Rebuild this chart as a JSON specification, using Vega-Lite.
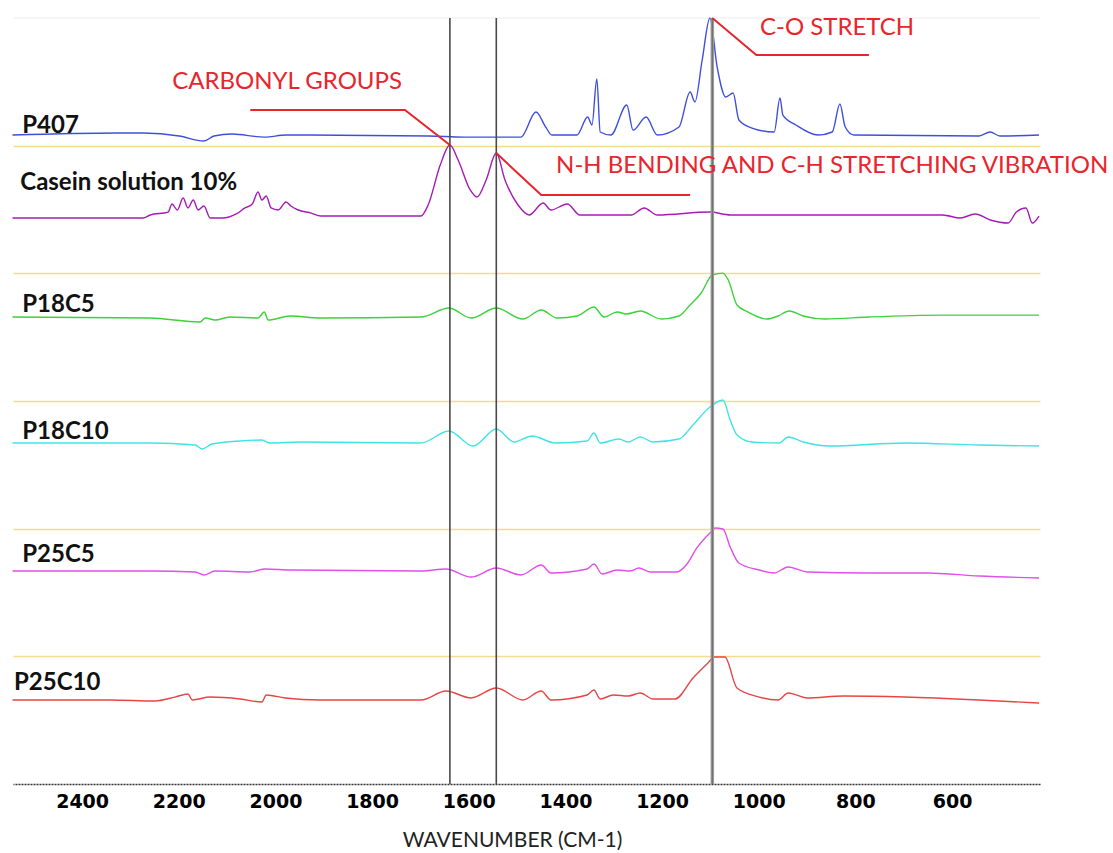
{
  "$schema": "https://vega.github.io/schema/vega-lite/v6.json",
  "autosize": "none",
  "width": 1027,
  "height": 766,
  "padding": {"left": 13, "top": 18, "right": 73, "bottom": 69},
  "background": "white",
  "config": {"view": {"stroke": null}},
  "datasets": {
    "spectra": [
      {"s":"P407","x":2544,"y":5.083},{"s":"P407","x":2326,"y":5.099},{"s":"P407","x":2274,"y":5.099},{"s":"P407","x":2199,"y":5.076},{"s":"P407","x":2148,"y":5.036},{"s":"P407","x":2127,"y":5.076},{"s":"P407","x":2090,"y":5.091},{"s":"P407","x":2023,"y":5.067},{"s":"P407","x":1978,"y":5.083},{"s":"P407","x":1934,"y":5.083},{"s":"P407","x":1682,"y":5.076},{"s":"P407","x":1610,"y":5.067},{"s":"P407","x":1492,"y":5.067},{"s":"P407","x":1461,"y":5.264},{"s":"P407","x":1440,"y":5.141},{"s":"P407","x":1428,"y":5.083},{"s":"P407","x":1376,"y":5.083},{"s":"P407","x":1354,"y":5.224},{"s":"P407","x":1345,"y":5.162},{"s":"P407","x":1335,"y":5.522},{"s":"P407","x":1328,"y":5.107},{"s":"P407","x":1306,"y":5.083},{"s":"P407","x":1273,"y":5.318},{"s":"P407","x":1260,"y":5.122},{"s":"P407","x":1233,"y":5.224},{"s":"P407","x":1210,"y":5.083},{"s":"P407","x":1165,"y":5.146},{"s":"P407","x":1142,"y":5.42},{"s":"P407","x":1132,"y":5.342},{"s":"P407","x":1117,"y":5.671},{"s":"P407","x":1101,"y":6.0},{"s":"P407","x":1086,"y":5.616},{"s":"P407","x":1068,"y":5.381},{"s":"P407","x":1053,"y":5.412},{"s":"P407","x":1041,"y":5.201},{"s":"P407","x":1014,"y":5.138},{"s":"P407","x":968,"y":5.107},{"s":"P407","x":956,"y":5.373},{"s":"P407","x":950,"y":5.24},{"s":"P407","x":923,"y":5.162},{"s":"P407","x":877,"y":5.083},{"s":"P407","x":848,"y":5.107},{"s":"P407","x":832,"y":5.326},{"s":"P407","x":821,"y":5.146},{"s":"P407","x":803,"y":5.083},{"s":"P407","x":544,"y":5.076},{"s":"P407","x":521,"y":5.107},{"s":"P407","x":501,"y":5.076},{"s":"P407","x":420,"y":5.083},

      {"s":"Casein","x":2544,"y":4.433},{"s":"Casein","x":2274,"y":4.433},{"s":"Casein","x":2259,"y":4.457},{"s":"Casein","x":2222,"y":4.48},{"s":"Casein","x":2214,"y":4.543},{"s":"Casein","x":2203,"y":4.496},{"s":"Casein","x":2191,"y":4.59},{"s":"Casein","x":2181,"y":4.512},{"s":"Casein","x":2170,"y":4.574},{"s":"Casein","x":2160,"y":4.496},{"s":"Casein","x":2148,"y":4.527},{"s":"Casein","x":2135,"y":4.433},{"s":"Casein","x":2110,"y":4.433},{"s":"Casein","x":2081,"y":4.465},{"s":"Casein","x":2063,"y":4.512},{"s":"Casein","x":2048,"y":4.543},{"s":"Casein","x":2036,"y":4.637},{"s":"Casein","x":2028,"y":4.574},{"s":"Casein","x":2019,"y":4.606},{"s":"Casein","x":2009,"y":4.512},{"s":"Casein","x":1994,"y":4.496},{"s":"Casein","x":1978,"y":4.559},{"s":"Casein","x":1968,"y":4.527},{"s":"Casein","x":1953,"y":4.496},{"s":"Casein","x":1926,"y":4.472},{"s":"Casein","x":1906,"y":4.449},{"s":"Casein","x":1699,"y":4.449},{"s":"Casein","x":1684,"y":4.535},{"s":"Casein","x":1659,"y":4.848},{"s":"Casein","x":1639,"y":5.005},{"s":"Casein","x":1622,"y":4.888},{"s":"Casein","x":1597,"y":4.653},{"s":"Casein","x":1583,"y":4.598},{"s":"Casein","x":1564,"y":4.731},{"s":"Casein","x":1543,"y":4.942},{"s":"Casein","x":1525,"y":4.731},{"s":"Casein","x":1498,"y":4.535},{"s":"Casein","x":1475,"y":4.457},{"s":"Casein","x":1446,"y":4.551},{"s":"Casein","x":1430,"y":4.496},{"s":"Casein","x":1396,"y":4.543},{"s":"Casein","x":1370,"y":4.457},{"s":"Casein","x":1264,"y":4.457},{"s":"Casein","x":1237,"y":4.512},{"s":"Casein","x":1210,"y":4.457},{"s":"Casein","x":1101,"y":4.48},{"s":"Casein","x":1059,"y":4.457},{"s":"Casein","x":620,"y":4.457},{"s":"Casein","x":583,"y":4.433},{"s":"Casein","x":552,"y":4.465},{"s":"Casein","x":521,"y":4.418},{"s":"Casein","x":484,"y":4.394},{"s":"Casein","x":467,"y":4.48},{"s":"Casein","x":447,"y":4.512},{"s":"Casein","x":434,"y":4.394},{"s":"Casein","x":420,"y":4.449},

      {"s":"P18C5","x":2544,"y":3.658},{"s":"P18C5","x":2259,"y":3.65},{"s":"P18C5","x":2156,"y":3.619},{"s":"P18C5","x":2145,"y":3.65},{"s":"P18C5","x":2125,"y":3.634},{"s":"P18C5","x":2094,"y":3.658},{"s":"P18C5","x":2036,"y":3.65},{"s":"P18C5","x":2023,"y":3.697},{"s":"P18C5","x":2015,"y":3.634},{"s":"P18C5","x":1970,"y":3.666},{"s":"P18C5","x":1908,"y":3.65},{"s":"P18C5","x":1699,"y":3.658},{"s":"P18C5","x":1641,"y":3.728},{"s":"P18C5","x":1595,"y":3.65},{"s":"P18C5","x":1543,"y":3.728},{"s":"P18C5","x":1488,"y":3.642},{"s":"P18C5","x":1450,"y":3.713},{"s":"P18C5","x":1417,"y":3.65},{"s":"P18C5","x":1376,"y":3.666},{"s":"P18C5","x":1341,"y":3.736},{"s":"P18C5","x":1320,"y":3.658},{"s":"P18C5","x":1293,"y":3.697},{"s":"P18C5","x":1274,"y":3.681},{"s":"P18C5","x":1245,"y":3.705},{"s":"P18C5","x":1202,"y":3.642},{"s":"P18C5","x":1165,"y":3.666},{"s":"P18C5","x":1142,"y":3.752},{"s":"P18C5","x":1119,"y":3.846},{"s":"P18C5","x":1096,"y":3.987},{"s":"P18C5","x":1074,"y":4.002},{"s":"P18C5","x":1063,"y":3.948},{"s":"P18C5","x":1045,"y":3.752},{"s":"P18C5","x":1022,"y":3.697},{"s":"P18C5","x":983,"y":3.642},{"s":"P18C5","x":960,"y":3.666},{"s":"P18C5","x":937,"y":3.705},{"s":"P18C5","x":908,"y":3.666},{"s":"P18C5","x":863,"y":3.642},{"s":"P18C5","x":772,"y":3.658},{"s":"P18C5","x":621,"y":3.673},{"s":"P18C5","x":420,"y":3.673},

      {"s":"P18C10","x":2544,"y":2.671},{"s":"P18C10","x":2259,"y":2.671},{"s":"P18C10","x":2166,"y":2.655},{"s":"P18C10","x":2152,"y":2.624},{"s":"P18C10","x":2131,"y":2.663},{"s":"P18C10","x":2073,"y":2.687},{"s":"P18C10","x":2028,"y":2.694},{"s":"P18C10","x":2011,"y":2.671},{"s":"P18C10","x":1949,"y":2.679},{"s":"P18C10","x":1699,"y":2.671},{"s":"P18C10","x":1641,"y":2.765},{"s":"P18C10","x":1591,"y":2.647},{"s":"P18C10","x":1543,"y":2.781},{"s":"P18C10","x":1506,"y":2.679},{"s":"P18C10","x":1469,"y":2.726},{"s":"P18C10","x":1421,"y":2.671},{"s":"P18C10","x":1355,"y":2.687},{"s":"P18C10","x":1341,"y":2.749},{"s":"P18C10","x":1328,"y":2.671},{"s":"P18C10","x":1289,"y":2.702},{"s":"P18C10","x":1270,"y":2.679},{"s":"P18C10","x":1245,"y":2.718},{"s":"P18C10","x":1219,"y":2.679},{"s":"P18C10","x":1165,"y":2.702},{"s":"P18C10","x":1136,"y":2.812},{"s":"P18C10","x":1101,"y":2.953},{"s":"P18C10","x":1074,"y":3.008},{"s":"P18C10","x":1059,"y":2.851},{"s":"P18C10","x":1045,"y":2.734},{"s":"P18C10","x":1014,"y":2.679},{"s":"P18C10","x":958,"y":2.671},{"s":"P18C10","x":939,"y":2.718},{"s":"P18C10","x":908,"y":2.679},{"s":"P18C10","x":854,"y":2.647},{"s":"P18C10","x":697,"y":2.671},{"s":"P18C10","x":544,"y":2.655},{"s":"P18C10","x":420,"y":2.647},

      {"s":"P25C5","x":2544,"y":1.668},{"s":"P25C5","x":2259,"y":1.668},{"s":"P25C5","x":2166,"y":1.661},{"s":"P25C5","x":2148,"y":1.637},{"s":"P25C5","x":2125,"y":1.668},{"s":"P25C5","x":2053,"y":1.661},{"s":"P25C5","x":2021,"y":1.684},{"s":"P25C5","x":1970,"y":1.676},{"s":"P25C5","x":1699,"y":1.668},{"s":"P25C5","x":1647,"y":1.684},{"s":"P25C5","x":1595,"y":1.621},{"s":"P25C5","x":1543,"y":1.692},{"s":"P25C5","x":1492,"y":1.637},{"s":"P25C5","x":1450,"y":1.715},{"s":"P25C5","x":1430,"y":1.653},{"s":"P25C5","x":1355,"y":1.684},{"s":"P25C5","x":1341,"y":1.723},{"s":"P25C5","x":1324,"y":1.645},{"s":"P25C5","x":1293,"y":1.676},{"s":"P25C5","x":1266,"y":1.668},{"s":"P25C5","x":1248,"y":1.692},{"s":"P25C5","x":1225,"y":1.661},{"s":"P25C5","x":1169,"y":1.661},{"s":"P25C5","x":1150,"y":1.715},{"s":"P25C5","x":1128,"y":1.849},{"s":"P25C5","x":1101,"y":1.966},{"s":"P25C5","x":1090,"y":2.005},{"s":"P25C5","x":1074,"y":1.997},{"s":"P25C5","x":1059,"y":1.856},{"s":"P25C5","x":1041,"y":1.731},{"s":"P25C5","x":999,"y":1.676},{"s":"P25C5","x":968,"y":1.653},{"s":"P25C5","x":939,"y":1.7},{"s":"P25C5","x":900,"y":1.661},{"s":"P25C5","x":772,"y":1.653},{"s":"P25C5","x":652,"y":1.653},{"s":"P25C5","x":544,"y":1.629},{"s":"P25C5","x":420,"y":1.614},

      {"s":"P25C10","x":2544,"y":0.658},{"s":"P25C10","x":2342,"y":0.658},{"s":"P25C10","x":2249,"y":0.65},{"s":"P25C10","x":2208,"y":0.681},{"s":"P25C10","x":2181,"y":0.705},{"s":"P25C10","x":2172,"y":0.658},{"s":"P25C10","x":2135,"y":0.681},{"s":"P25C10","x":2073,"y":0.666},{"s":"P25C10","x":2028,"y":0.642},{"s":"P25C10","x":2019,"y":0.697},{"s":"P25C10","x":1980,"y":0.674},{"s":"P25C10","x":1908,"y":0.658},{"s":"P25C10","x":1699,"y":0.658},{"s":"P25C10","x":1647,"y":0.728},{"s":"P25C10","x":1595,"y":0.674},{"s":"P25C10","x":1543,"y":0.752},{"s":"P25C10","x":1488,"y":0.658},{"s":"P25C10","x":1450,"y":0.728},{"s":"P25C10","x":1430,"y":0.658},{"s":"P25C10","x":1355,"y":0.697},{"s":"P25C10","x":1341,"y":0.736},{"s":"P25C10","x":1328,"y":0.666},{"s":"P25C10","x":1301,"y":0.697},{"s":"P25C10","x":1270,"y":0.689},{"s":"P25C10","x":1245,"y":0.713},{"s":"P25C10","x":1219,"y":0.666},{"s":"P25C10","x":1173,"y":0.666},{"s":"P25C10","x":1136,"y":0.83},{"s":"P25C10","x":1105,"y":0.948},{"s":"P25C10","x":1092,"y":0.995},{"s":"P25C10","x":1070,"y":0.995},{"s":"P25C10","x":1045,"y":0.752},{"s":"P25C10","x":999,"y":0.681},{"s":"P25C10","x":960,"y":0.658},{"s":"P25C10","x":939,"y":0.713},{"s":"P25C10","x":900,"y":0.674},{"s":"P25C10","x":825,"y":0.689},{"s":"P25C10","x":697,"y":0.681},{"s":"P25C10","x":544,"y":0.658},{"s":"P25C10","x":420,"y":0.634}
    ],
    "bands": [{"x": 1639}, {"x": 1543}],
    "co": [{"x": 1096}],
    "leaders": [
      {"g":"carbonyl","o":1,"x":2052,"y":5.279},{"g":"carbonyl","o":2,"x":1732,"y":5.279},{"g":"carbonyl","o":3,"x":1639,"y":5.005},
      {"g":"nh","o":1,"x":1543,"y":4.942},{"g":"nh","o":2,"x":1450,"y":4.613},{"g":"nh","o":3,"x":1142,"y":4.613},
      {"g":"co","o":1,"x":1096,"y":6.0},{"g":"co","o":2,"x":1005,"y":5.71},{"g":"co","o":3,"x":772,"y":5.71}
    ],
    "notes": [
      {"x": 1976, "y": 5.499, "t": "CARBONYL GROUPS"},
      {"x": 848, "y": 4.841, "t": "N-H BENDING AND C-H STRETCHING VIBRATION"},
      {"x": 838, "y": 5.922, "t": "C-O STRETCH"}
    ],
    "labels": [
      {"x": 2524, "y": 5.154, "t": "P407"},
      {"x": 2528, "y": 4.707, "t": "Casein solution 10%"},
      {"x": 2524, "y": 3.752, "t": "P18C5"},
      {"x": 2524, "y": 2.757, "t": "P18C10"},
      {"x": 2524, "y": 1.794, "t": "P25C5"},
      {"x": 2541, "y": 0.791, "t": "P25C10"}
    ],
    "top": [{"y": 6}]
  },
  "layer": [
    {
      "data": {"name": "top"},
      "mark": {"type": "rule", "color": "#ececec", "strokeWidth": 1},
      "encoding": {
        "y": {"field": "y", "type": "quantitative", "scale": {"domain": [0, 6], "nice": false, "zero": false},
          "axis": {"values": [1, 2, 3, 4, 5], "grid": true, "gridColor": "#f6da8f", "gridWidth": 1.5, "domain": false, "ticks": false, "labels": false, "title": null}}
      }
    },
    {
      "data": {"name": "spectra"},
      "mark": {"type": "line", "strokeWidth": 1.4, "interpolate": "monotone"},
      "encoding": {
        "x": {"field": "x", "type": "quantitative",
          "scale": {"domain": [418, 2543], "reverse": true, "nice": false, "zero": false},
          "axis": {"values": [2400, 2200, 2000, 1800, 1600, 1400, 1200, 1000, 800, 600], "format": "d",
            "grid": false, "ticks": false, "domain": true, "domainColor": "#333333", "domainDash": [2, 1], "domainWidth": 1.5,
            "labelFont": "DejaVu Sans", "labelFontWeight": "bold", "labelFontSize": 19, "labelColor": "#000000", "labelPadding": 8,
            "title": "WAVENUMBER (CM-1)", "titleFont": "Lato", "titleFontWeight": "normal", "titleFontSize": 21, "titleColor": "#222222",
            "titleBaseline": "alphabetic", "titleY": 62, "titleX": 499}},
        "y": {"field": "y", "type": "quantitative"},
        "color": {"field": "s", "type": "nominal", "legend": null,
          "scale": {"domain": ["P407", "Casein", "P18C5", "P18C10", "P25C5", "P25C10"],
            "range": ["#3f4fdc", "#a51cb5", "#3cd23c", "#40e3e3", "#e050e8", "#e84444"]}}
      }
    },
    {
      "data": {"name": "bands"},
      "mark": {"type": "rule", "color": "#4a4a4a", "strokeWidth": 1.6},
      "encoding": {"x": {"field": "x", "type": "quantitative"}}
    },
    {
      "data": {"name": "co"},
      "mark": {"type": "rule", "color": "#9a9a9a", "strokeWidth": 3.5},
      "encoding": {"x": {"field": "x", "type": "quantitative"}}
    },
    {
      "data": {"name": "co"},
      "mark": {"type": "rule", "color": "#6a6a6a", "strokeWidth": 1},
      "encoding": {"x": {"field": "x", "type": "quantitative"}}
    },
    {
      "data": {"name": "leaders"},
      "mark": {"type": "line", "color": "#e8252d", "strokeWidth": 2},
      "encoding": {
        "x": {"field": "x", "type": "quantitative"},
        "y": {"field": "y", "type": "quantitative"},
        "detail": {"field": "g"},
        "order": {"field": "o"}
      }
    },
    {
      "data": {"name": "notes"},
      "mark": {"type": "text", "font": "Lato", "fontSize": 24, "color": "#e8252d", "align": "center", "baseline": "middle"},
      "encoding": {
        "x": {"field": "x", "type": "quantitative"},
        "y": {"field": "y", "type": "quantitative"},
        "text": {"field": "t"}
      }
    },
    {
      "data": {"name": "labels"},
      "mark": {"type": "text", "font": "Lato", "fontWeight": "bold", "fontSize": 24, "color": "#111111", "align": "left", "baseline": "middle"},
      "encoding": {
        "x": {"field": "x", "type": "quantitative"},
        "y": {"field": "y", "type": "quantitative"},
        "text": {"field": "t"}
      }
    }
  ]
}
